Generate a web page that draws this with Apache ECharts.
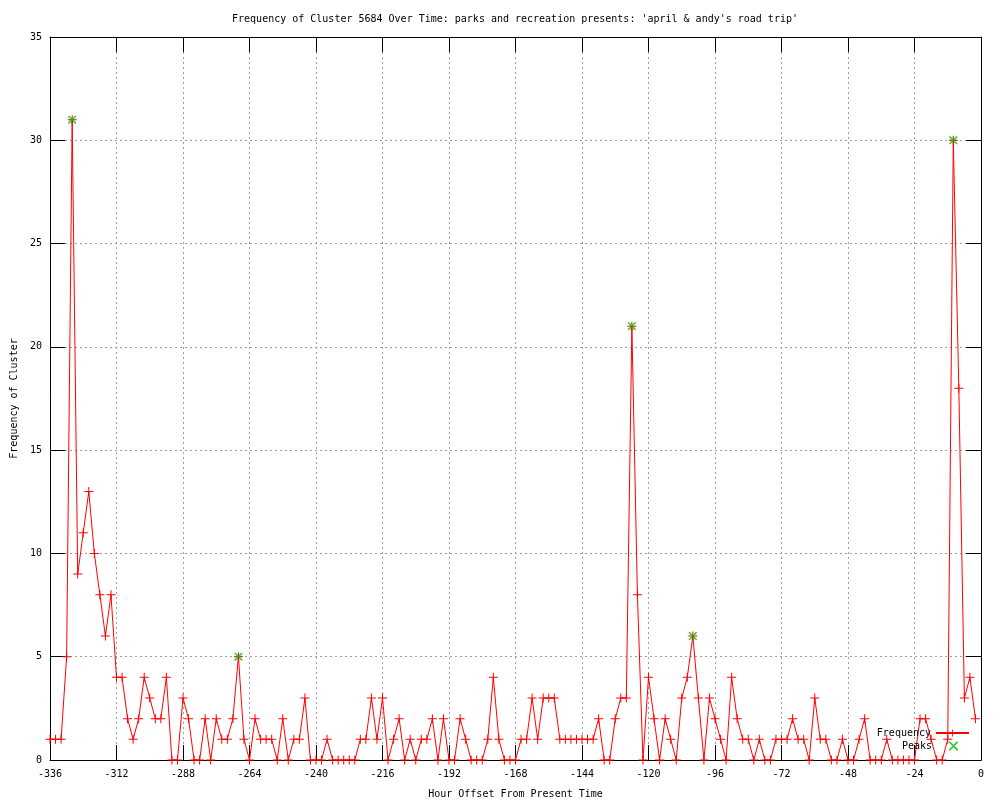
<!DOCTYPE html>
<html>
<head>
<meta charset="utf-8">
<script src="https://cdn.jsdelivr.net/npm/echarts@6/dist/echarts.min.js"></script>
<style>html,body{margin:0;padding:0;background:#fff}#c{width:1000px;height:800px}</style>
</head>
<body>
<div id="c"></div>
<script>
const titleText = "Frequency of Cluster 5684 Over Time: parks and recreation presents: 'april & andy's road trip'";
const xAxisName = "Hour Offset From Present Time";
const yAxisName = "Frequency of Cluster";
const xMin = -336, xMax = 0, xInterval = 24;
const yMin = 0, yMax = 35, yInterval = 5;

// sample times: every 2 hours starting at -336
const firstHour = -336;
const hourStep = 2;
const frequency = [
  1,
  1,1,5,31,9,11,13,10,8,6,
  8,4,4,2,1,2,4,3,2,2,
  4,0,0,3,2,0,0,2,0,2,
  1,1,2,5,1,0,2,1,1,1,
  0,2,0,1,1,3,0,0,0,1,
  0,0,0,0,0,1,1,3,1,3,
  0,1,2,0,1,0,1,1,2,0,
  2,0,0,2,1,0,0,0,1,4,
  1,0,0,0,1,1,3,1,3,3,
  3,1,1,1,1,1,1,1,2,0,
  0,2,3,3,21,8,0,4,2,0,
  2,1,0,3,4,6,3,0,3,2,
  1,0,4,2,1,1,0,1,0,0,
  1,1,1,2,1,1,0,3,1,1,
  0,0,1,0,0,1,2,0,0,0,
  1,0,0,0,0,0,2,2,1,0,
  0,1,30,18,3,4,2
];
const peakHours = [-328, -268, -126, -104, -10];
const peakValues = [31, 5, 21, 6, 30];

const FONT = 'DejaVu Sans Mono';
const freqData = frequency.map((v, i) => [firstHour + hourStep * i, v]);
const peakData = peakHours.map((h, i) => [h, peakValues[i]]);

const crossPath = 'path://M0,4L9,4L9,5L0,5Z M4,0L5,0L5,9L4,9Z';
const xPath = 'path://M0,0L1.3,0L9,7.7L9,9L7.7,9L0,1.3Z M7.7,0L9,0L9,1.3L1.3,9L0,9L0,7.7Z';

const axisLine = {show: true, onZero: false, lineStyle: {color: '#000', width: 1}};
const tick = {show: true, inside: true, length: 15, lineStyle: {color: '#000', width: 1}};
const grid = {show: true, lineStyle: {color: '#a0a0a0', width: 1, type: [2, 3]}};
const xLbl = {color: '#000', fontFamily: FONT, fontSize: 10, margin: 9};
const yLbl = {color: '#000', fontFamily: FONT, fontSize: 10, margin: 8};

const chart = echarts.init(document.getElementById('c'), null, {renderer: 'canvas'});
chart.setOption({
  backgroundColor: '#fff',
  animation: false,
  title: {
    text: titleText, left: 515, top: 14, padding: 0, textAlign: 'center',
    textStyle: {fontFamily: FONT, fontSize: 10, fontWeight: 'normal', color: '#000'}
  },
  grid: {left: 50, right: 19, top: 37, bottom: 40, containLabel: false, outerBoundsMode: 'none'},
  legend: [
    {data: ['Frequency'], right: 30, top: 728, orient: 'vertical', align: 'right', padding: 0,
     itemWidth: 33, itemHeight: 9, selectedMode: false,
     textStyle: {fontFamily: FONT, fontSize: 10, color: '#000'}},
    {data: ['Peaks'], right: 42, top: 741, orient: 'vertical', align: 'right', padding: 0,
     itemWidth: 33, itemHeight: 9, selectedMode: false,
     textStyle: {fontFamily: FONT, fontSize: 10, color: '#000'}}
  ],
  xAxis: [
    {type: 'value', position: 'bottom', min: xMin, max: xMax, interval: xInterval,
     axisLine: axisLine, axisTick: tick, axisLabel: xLbl, splitLine: grid,
     name: xAxisName, nameLocation: 'middle', nameGap: 29,
     nameTextStyle: {fontFamily: FONT, fontSize: 10, color: '#000'}},
    {type: 'value', position: 'top', min: xMin, max: xMax, interval: xInterval,
     axisLine: axisLine, axisTick: tick, axisLabel: {show: false}, splitLine: {show: false}}
  ],
  yAxis: [
    {type: 'value', position: 'left', min: yMin, max: yMax, interval: yInterval,
     axisLine: axisLine, axisTick: tick, axisLabel: yLbl, splitLine: grid,
     name: yAxisName, nameLocation: 'middle', nameGap: 31, nameRotate: 90,
     nameTextStyle: {fontFamily: FONT, fontSize: 10, color: '#000'}},
    {type: 'value', position: 'right', min: yMin, max: yMax, interval: yInterval,
     axisLine: axisLine, axisTick: tick, axisLabel: {show: false}, splitLine: {show: false}}
  ],
  series: [
    {name: 'Frequency', type: 'line', data: freqData, xAxisIndex: 0, yAxisIndex: 0,
     symbol: crossPath, symbolSize: 9, showAllSymbol: true, clip: true,
     lineStyle: {color: '#ff0000', width: 1}, itemStyle: {color: '#ff0000'},
     emphasis: {disabled: true}},
    {name: 'Peaks', type: 'scatter', data: peakData, xAxisIndex: 0, yAxisIndex: 0,
     symbol: xPath, symbolSize: 8, itemStyle: {color: '#00c000'}, z: 3,
     emphasis: {disabled: true}}
  ]
});
</script>
</body>
</html>
